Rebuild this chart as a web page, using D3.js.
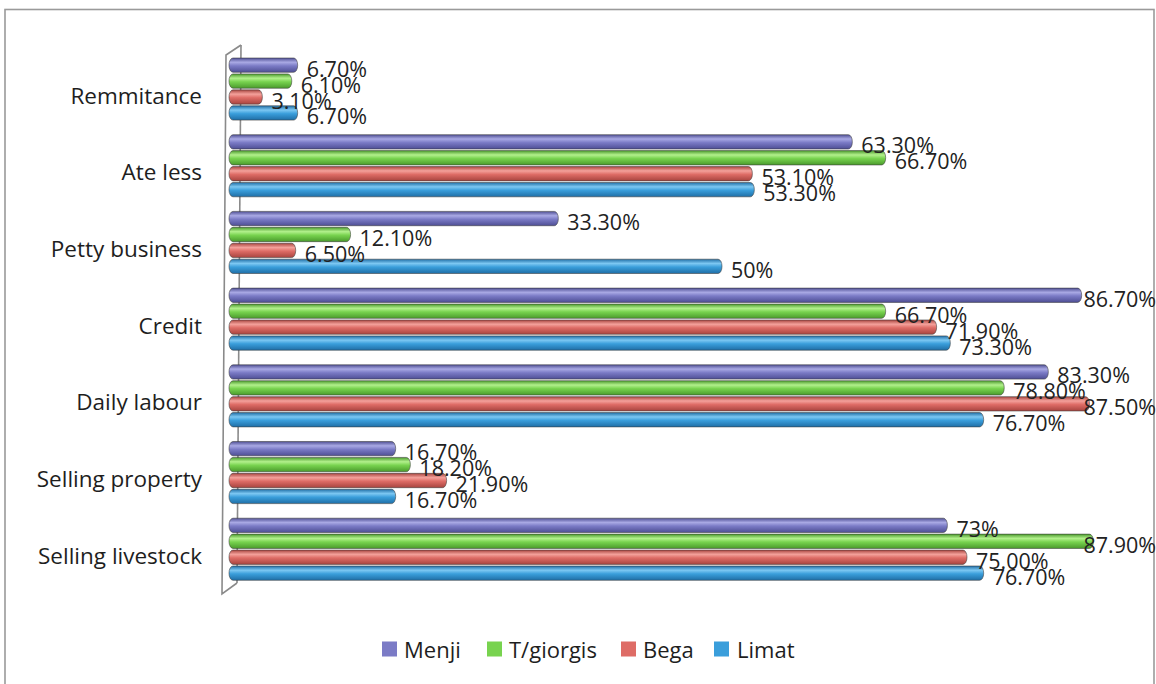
<!DOCTYPE html>
<html><head><meta charset="utf-8">
<script src="https://cdn.jsdelivr.net/npm/d3@7"></script>
<style>
html,body{margin:0;padding:0;background:#fff;}
svg{display:block;font-family:"Open Sans",sans-serif;}
</style></head>
<body><svg id="c" width="1156" height="684"></svg>
<script>
const categories = ["Remmitance","Ate less","Petty business","Credit","Daily labour","Selling property","Selling livestock"];
const seriesNames = ["Menji","T/giorgis","Bega","Limat"];
const menji     = [6.7, 63.3, 33.3, 86.7, 83.3, 16.7, 73.0];
const tgiorgis  = [6.1, 66.7, 12.1, 66.7, 78.8, 18.2, 87.9];
const bega      = [3.1, 53.1, 6.5, 71.9, 87.5, 21.9, 75.0];
const limat     = [6.7, 53.3, 50.0, 73.3, 76.7, 16.7, 76.7];
const menjiLabels    = ["6.70%","63.30%","33.30%","86.70%","83.30%","16.70%","73%"];
const tgiorgisLabels = ["6.10%","66.70%","12.10%","66.70%","78.80%","18.20%","87.90%"];
const begaLabels     = ["3.10%","53.10%","6.50%","71.90%","87.50%","21.90%","75.00%"];
const limatLabels    = ["6.70%","53.30%","50%","73.30%","76.70%","16.70%","76.70%"];
const colors = ["#7b7bc6","#78d34f","#de6c66","#3a9edb"];
const edgeColors = ["#4e4e94","#4a9a2c","#a8443f","#1f6ea6"];
const lightColors = ["#a9a9e4","#b2f08c","#f4a19b","#7cc7f2"];

const seriesValues = [menji, tgiorgis, bega, limat];
const seriesLabels = [menjiLabels, tgiorgisLabels, begaLabels, limatLabels];

const svg = d3.select("#c");
const defs = svg.append("defs");
colors.forEach((c,i)=>{
  const g = defs.append("linearGradient").attr("id","g"+i).attr("x1",0).attr("y1",0).attr("x2",0).attr("y2",1);
  g.append("stop").attr("offset","0%").attr("stop-color",edgeColors[i]);
  g.append("stop").attr("offset","30%").attr("stop-color",lightColors[i]);
  g.append("stop").attr("offset","55%").attr("stop-color",c);
  g.append("stop").attr("offset","100%").attr("stop-color",edgeColors[i]);
});

// frame
svg.append("rect").attr("x",5).attr("y",9.5).attr("width",1149).attr("height",690)
  .attr("fill","none").attr("stroke","#9a9a9a").attr("stroke-width",1.6);

const x = d3.scaleLinear().domain([0,100]).range([232,1212]);
const y0 = d3.scaleBand().domain(categories).range([50.7,587.6]).paddingInner(0.19).paddingOuter(0.095);
const y1 = d3.scaleBand().domain(seriesNames).range([0,y0.bandwidth()]).paddingInner(0.1);

// 3D wall
const wall = svg.append("g").attr("fill","none").attr("stroke","#8a8a8a").attr("stroke-width",1.6);
wall.append("path").attr("d","M241,45 L237,583");
wall.append("path").attr("d","M237,583 L222,594 L226,55 L241,45");

// category labels
svg.append("g").selectAll("text").data(categories).join("text")
  .attr("x",202).attr("y",d=>y0(d)+y0.bandwidth()/2+6)
  .attr("text-anchor","end").attr("dominant-baseline","central")
  .attr("font-size",22.5).attr("fill","#1e1e1e").text(d=>d);

// bars
const groups = svg.append("g").selectAll("g").data(categories).join("g")
  .attr("transform",d=>`translate(0,${y0(d)})`);
seriesNames.forEach((s,si)=>{
  groups.append("rect")
    .attr("x",x(0)-3)
    .attr("y",y1(s))
    .attr("width",(d,ci)=>x(seriesValues[si][ci])-x(0)+3)
    .attr("height",y1.bandwidth())
    .attr("rx",4).attr("ry",7)
    .attr("fill",`url(#g${si})`)
    .attr("stroke","#3a3a3a").attr("stroke-opacity",0.55).attr("stroke-width",1);
});
// value labels
seriesNames.forEach((s,si)=>{
  groups.append("text")
    .attr("y",y1(s)+y1.bandwidth()/2+3)
    .attr("dominant-baseline","central")
    .attr("font-size",21.5).attr("fill","#222")
    .text((d,ci)=>seriesLabels[si][ci])
    .attr("x",function(d,ci){
      const w=this.getComputedTextLength();
      return Math.min(x(seriesValues[si][ci])+9, 1156-w);
    });
});

// legend
const legX = [382,487,621,714];
const leg = svg.append("g").selectAll("g").data(seriesNames).join("g")
  .attr("transform",(d,i)=>`translate(${legX[i]},649)`);
leg.append("rect").attr("x",0).attr("y",-7.5).attr("width",15).attr("height",15)
  .attr("fill",(d,i)=>colors[i]);
leg.append("text").attr("x",(d,i)=>i===2?22:i===3?23:22).attr("y",0).attr("dominant-baseline","central")
  .attr("font-size",22).attr("fill","#1e1e1e").text(d=>d);
</script></body></html>
